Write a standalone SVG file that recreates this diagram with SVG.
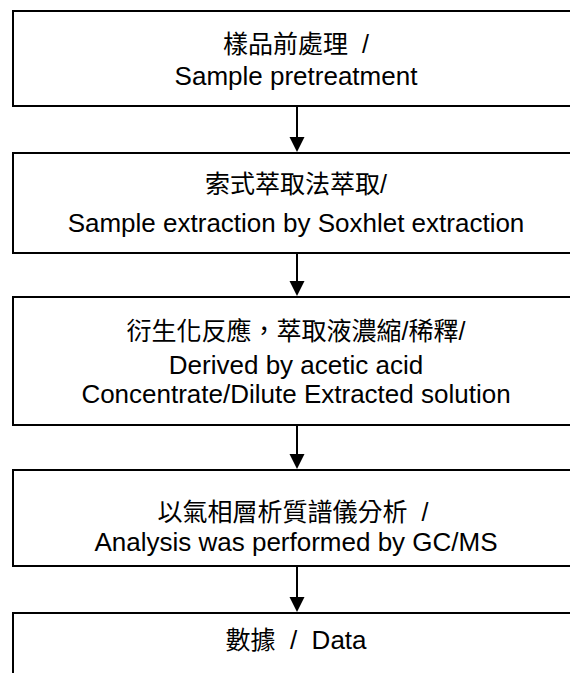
<svg xmlns="http://www.w3.org/2000/svg" width="570" height="673" viewBox="0 0 570 673">
<style>
.box{fill:#fff;stroke:#000;stroke-width:2}
.t{font-family:"Liberation Sans","Noto Sans CJK TC",sans-serif;font-size:26px;fill:#000;text-anchor:middle}
.c{font-size:25px}
.conn line{stroke:#000;stroke-width:2}
.conn polygon{fill:#000}
</style>
<rect x="0" y="0" width="570" height="673" fill="#fff"/>
<g id="node1">
<rect class="box" x="13" y="11" width="580" height="95"/>
<text class="t c" x="296" y="53">樣品前處理&#160;&#160;/</text>
<text class="t" x="296" y="85">Sample pretreatment</text>
</g>
<g id="node2">
<rect class="box" x="13" y="153" width="580" height="100"/>
<text class="t c" x="296" y="193">索式萃取法萃取/</text>
<text class="t" x="296" y="232">Sample extraction by Soxhlet extraction</text>
</g>
<g id="node3">
<rect class="box" x="13" y="297" width="580" height="128"/>
<text class="t c" x="296" y="340">衍生化反應，萃取液濃縮/稀釋/</text>
<text class="t" x="296" y="374">Derived by acetic acid</text>
<text class="t" x="296" y="403">Concentrate/Dilute Extracted solution</text>
</g>
<g id="node4">
<rect class="box" x="13" y="470" width="580" height="96"/>
<text class="t c" x="293" y="521">以氣相層析質譜儀分析&#160;&#160;/</text>
<text class="t" x="296" y="551">Analysis was performed by GC/MS</text>
</g>
<g id="node5">
<rect class="box" x="13" y="613" width="580" height="100"/>
<text class="t" x="296" y="649"><tspan class="c">數據</tspan>&#160;&#160;/&#160;&#160;Data</text>
</g>
<g id="connectors" class="conn">
<line x1="297" y1="106" x2="297" y2="138"/>
<polygon points="289.5,137 304.5,137 297,152"/>
<line x1="297" y1="253" x2="297" y2="282"/>
<polygon points="289.5,281 304.5,281 297,296"/>
<line x1="297" y1="425" x2="297" y2="455"/>
<polygon points="289.5,454 304.5,454 297,469"/>
<line x1="297" y1="566" x2="297" y2="598"/>
<polygon points="289.5,597 304.5,597 297,612"/>
</g>
</svg>
